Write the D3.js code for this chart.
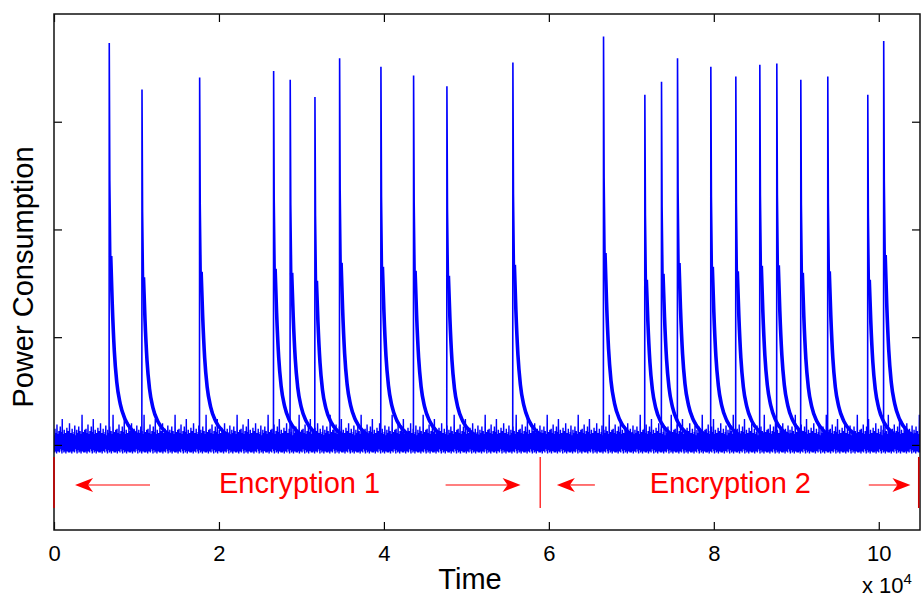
<!DOCTYPE html>
<html>
<head>
    <meta charset="utf-8">
    <title>Power Consumption trace</title>
    <script src="https://d3js.org/d3.v7.min.js"></script>
    <style>
        body { margin: 0; background: #fff; }
        text { font-family: "Liberation Sans", Arial, sans-serif; }
    </style>
</head>
<body>
    <svg id="trace" width="921" height="597"></svg>

    <script>
        // ---- data (time in units of 10^4) ----
        const xTicks = [0, 2, 4, 6, 8, 10];
        const yTicks = [1, 2, 3, 4];

        const spikeTimes = [0.670, 1.067, 1.766, 2.663, 2.864, 3.164, 3.463, 3.964, 4.360, 4.764, 5.564,
                            6.663, 7.164, 7.366, 7.560, 7.964, 8.267, 8.558, 8.764, 9.055, 9.382, 9.867, 10.06];
        const spikePeaks = [4.73, 4.30, 4.41, 4.47, 4.39, 4.23, 4.59, 4.51, 4.43, 4.33, 4.55,
                            4.79, 4.25, 4.37, 4.59, 4.51, 4.42, 4.53, 4.54, 4.39, 4.42, 4.25, 4.75];

        // decay after each spike: time offset and fraction of (peak - baseline)
        const decayOffsets = [0, 0.007, 0.018, 0.036, 0.061, 0.091, 0.133, 0.194, 0.291, 0.412];
        const decayLevels  = [1, 0.65, 0.46, 0.34, 0.22, 0.14, 0.085, 0.045, 0.015, 0];
        const baseline = 1.07;

        // jagged top / bottom of the noisy baseline band
        const noiseHigh = [1.09, 1.15, 1.07, 1.11, 1.19, 1.08, 1.10, 1.13, 1.06, 1.17, 1.08, 1.12, 1.24, 1.07, 1.10, 1.14,
                           1.08, 1.11, 1.06, 1.16, 1.09, 1.13, 1.07, 1.20, 1.08, 1.11, 1.07, 1.15, 1.10, 1.06, 1.12, 1.18,
                           1.07, 1.09, 1.14, 1.06, 1.11, 1.17, 1.08, 1.13, 1.07, 1.10, 1.28, 1.09, 1.12, 1.07, 1.14];
        const noiseLow = [0.95, 0.93, 0.96, 0.94, 0.92, 0.96, 0.94, 0.95, 0.93, 0.96, 0.97, 0.94,
                          0.92, 0.95, 0.96, 0.93, 0.94, 0.96, 0.92, 0.95, 0.94, 0.97, 0.93];

        // annotations
        const markerTimes = [0, 5.895, 10.485];
        const markerRange = [0.414, 0.888];
        const arrows = [[1.164, 0.255], [4.748, 5.657], [6.558, 6.097], [9.879, 10.384]];
        const arrowLevel = 0.628;
        const labels = ["Encryption 1", "Encryption 2"];
        const labelTimes = [2.0, 7.224];
        const labelLevel = 0.553;

        const svg = d3.select('svg#trace');
        const plot = { left: 54, right: 920, top: 14, bottom: 530 };

        const x = d3.scaleLinear().domain([0, 10.5]).range([plot.left, plot.right]);
        const y = d3.scaleLinear().domain([0.21, 5]).range([plot.bottom, plot.top]);

        svg.append('clipPath').attr('id', 'clip')
           .append('rect')
           .attr('x', plot.left).attr('y', plot.top)
           .attr('width', plot.right - plot.left).attr('height', plot.bottom - plot.top);

        const traceArea = svg.append('g').attr('clip-path', 'url(#clip)');
        const line = d3.line().x(d => x(d[0])).y(d => y(d[1]));

        // baseline band
        const band = [];
        const dt = 0.004;
        for (let i = 0; i * dt <= 10.5; i++) {
            const k = i >> 1;
            const v = i % 2 === 0 ? noiseLow[k % noiseLow.length] : noiseHigh[k % noiseHigh.length];
            band.push([i * dt, v]);
        }
        traceArea.append('path')
                 .attr('d', line(band))
                 .attr('fill', 'none')
                 .attr('stroke', '#0000ff')
                 .attr('stroke-width', 1.4);

        // spikes
        spikeTimes.forEach((t0, i) => {
            const peak = spikePeaks[i];
            const pts = [[t0 - 0.002, 1.0], [t0, peak]];
            decayOffsets.slice(1).forEach((o, j) => {
                pts.push([t0 + o, baseline + decayLevels[j + 1] * (peak - baseline)]);
            });
            traceArea.append('path')
                     .attr('d', line(pts))
                     .attr('fill', 'none')
                     .attr('stroke', '#0000ff')
                     .attr('stroke-width', 1.6);
            traceArea.append('path')
                     .attr('d', d3.line().x(d => x(d[0])).y(d => y(d[1])).curve(d3.curveMonotoneX)(pts.slice(3)))
                     .attr('fill', 'none')
                     .attr('stroke', '#0000ff')
                     .attr('stroke-width', 3.6);
        });

        // axes: ticks pointing inward on all four sides
        svg.append('g')
           .attr('transform', `translate(0, ${plot.bottom})`)
           .call(d3.axisBottom(x).tickValues(xTicks).tickSize(-8).tickPadding(15))
           .call(g => g.select('.domain').remove())
           .selectAll('text')
           .style('font-size', '22px')
           .style('font-family', '"Liberation Sans", Arial, sans-serif')
           .attr('fill', '#000');

        svg.append('g')
           .attr('transform', `translate(0, ${plot.top})`)
           .call(d3.axisTop(x).tickValues(xTicks).tickSize(-8).tickFormat(''))
           .call(g => g.select('.domain').remove());

        svg.append('g')
           .attr('transform', `translate(${plot.left}, 0)`)
           .call(d3.axisLeft(y).tickValues(yTicks).tickSize(-8).tickFormat(''))
           .call(g => g.select('.domain').remove());

        svg.append('g')
           .attr('transform', `translate(${plot.right}, 0)`)
           .call(d3.axisRight(y).tickValues(yTicks).tickSize(-8).tickFormat(''))
           .call(g => g.select('.domain').remove());

        svg.selectAll('.tick line').attr('stroke', '#000').attr('stroke-width', 1.2);

        svg.append('rect')
           .attr('x', plot.left).attr('y', plot.top)
           .attr('width', plot.right - plot.left).attr('height', plot.bottom - plot.top)
           .attr('fill', 'none')
           .attr('stroke', '#111')
           .attr('stroke-width', 1.5);

        // red annotations
        const red = '#ff0000';
        svg.selectAll('line.marker')
           .data(markerTimes)
           .enter().append('line')
           .attr('class', 'marker')
           .attr('x1', d => x(d)).attr('x2', d => x(d))
           .attr('y1', y(markerRange[1])).attr('y2', y(markerRange[0]))
           .attr('stroke', (d, i) => i === 1 ? red : '#cc0000')
           .attr('stroke-width', (d, i) => i === 1 ? 1.2 : 1.6);

        arrows.forEach(([from, to]) => {
            const x0 = x(from), x1 = x(to), yy = y(arrowLevel);
            const dir = Math.sign(x1 - x0);
            svg.append('line')
               .attr('x1', x0).attr('x2', x1 - dir * 10)
               .attr('y1', yy).attr('y2', yy)
               .attr('stroke', red)
               .attr('stroke-width', 1.1);
            svg.append('path')
               .attr('d', `M${x1},${yy} L${x1 - dir * 18},${yy - 7} L${x1 - dir * 13},${yy} L${x1 - dir * 18},${yy + 7} Z`)
               .attr('fill', red);
        });

        svg.selectAll('text.enc')
           .data(labels)
           .enter().append('text')
           .attr('class', 'enc')
           .attr('x', (d, i) => x(labelTimes[i]))
           .attr('y', y(labelLevel))
           .attr('fill', red)
           .style('font-size', '29px')
           .text(d => d);

        // axis titles
        svg.append('text')
           .attr('x', 470)
           .attr('y', 589)
           .attr('text-anchor', 'middle')
           .style('font-size', '29px')
           .text('Time');

        svg.append('text')
           .attr('transform', 'translate(33, 277) rotate(-90)')
           .attr('text-anchor', 'middle')
           .style('font-size', '29px')
           .text('Power Consumption');

        const expo = svg.append('text')
                        .attr('x', 862)
                        .attr('y', 593)
                        .style('font-size', '22px');
        expo.append('tspan').text('x 10');
        expo.append('tspan').attr('dy', -9).style('font-size', '15px').text('4');
    </script>
</body>
</html>
